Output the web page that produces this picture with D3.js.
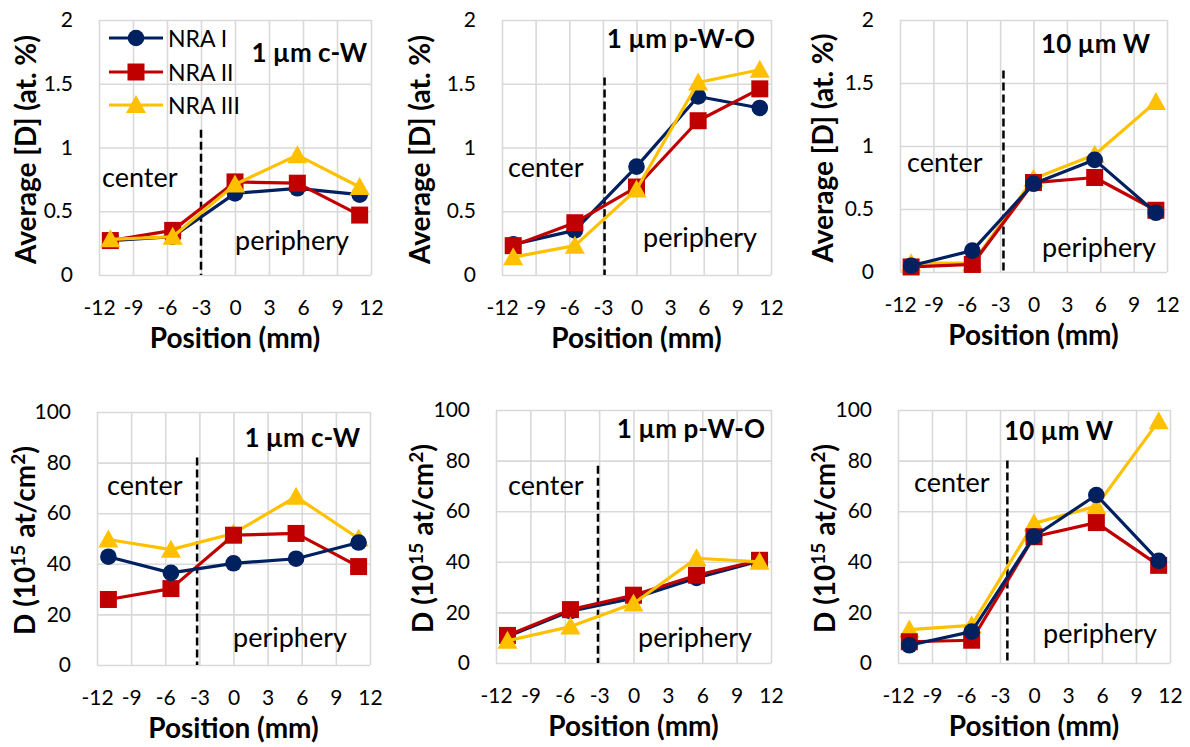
<!DOCTYPE html>
<html>
<head>
<meta charset="utf-8">
<script src="https://cdn.jsdelivr.net/npm/d3@7"></script>
<style>
body { margin: 0; background: #fff; }
#canvas { width: 1190px; height: 747px; }
text { font-family: Lato, 'Open Sans', sans-serif; }
</style>
</head>
<body>
<div id="canvas"></div>
<script>
// measurement positions (mm)
var positions = [-11, -5.5, 0, 5.5, 11];
var seriesNames = ['NRA I', 'NRA II', 'NRA III'];
var seriesColors = ['#002060', '#C00000', '#FFC000'];
var seriesShapes = ['circle', 'square', 'triangle'];
var sampleNames = ['1 µm c-W', '1 µm p-W-O', '10 µm W'];

var xTicks = [-12, -9, -6, -3, 0, 3, 6, 9, 12];
var avgTicks = [0, 0.5, 1, 1.5, 2];
var fluTicks = [0, 20, 40, 60, 80, 100];

// average [D] in at.%  (rows: NRA I, NRA II, NRA III)
var avg_cW = [
    [0.27, 0.30, 0.64, 0.68, 0.63],
    [0.27, 0.35, 0.73, 0.72, 0.47],
    [0.28, 0.30, 0.71, 0.94, 0.69]
];
var avg_pWO = [
    [0.24, 0.35, 0.85, 1.40, 1.31],
    [0.23, 0.41, 0.69, 1.21, 1.46],
    [0.14, 0.23, 0.67, 1.51, 1.61]
];
var avg_W = [
    [0.05, 0.17, 0.70, 0.89, 0.47],
    [0.04, 0.06, 0.71, 0.75, 0.49],
    [0.07, 0.07, 0.74, 0.93, 1.35]
];

// D amount in 1e15 at/cm2
var flu_cW = [
    [42.8, 36.4, 40.2, 42.0, 48.4],
    [25.9, 30.2, 51.3, 52.0, 38.9],
    [49.6, 45.6, 52.0, 66.5, 50.0]
];
var flu_pWO = [
    [10.5, 20.5, 25.6, 33.6, 40.3],
    [10.9, 21.1, 26.8, 34.7, 40.6],
    [8.8, 14.4, 23.5, 41.4, 40.0]
];
var flu_W = [
    [7.0, 12.4, 50.0, 66.4, 40.4],
    [8.4, 9.0, 49.9, 55.5, 38.6],
    [13.2, 14.9, 55.2, 62.0, 95.6]
];

// center / periphery boundary: [position, top of dashed line]
var bnd_avg = [[-3.0, 1.14], [-2.85, 1.55], [-2.7, 1.6]];
var bnd_flu = [[-3.2, 82], [-3.1, 78], [-2.35, 80]];

var panels = [
    {data: avg_cW, ticks: avgTicks, bnd: bnd_avg[0], name: sampleNames[0], kind: 'avg',
     l: 99, r: 371, t: 20, b: 275, order: [0, 1, 2], ytx: 36,
     nameX: 367, nameY: 62, cX: 102, cY: 187, pX: 235, pY: 250, legend: true},
    {data: avg_pWO, ticks: avgTicks, bnd: bnd_avg[1], name: sampleNames[1], kind: 'avg',
     l: 502, r: 771, t: 20, b: 275, order: [0, 1, 2], ytx: 430,
     nameX: 755, nameY: 48, cX: 508, cY: 177, pX: 643, pY: 247},
    {data: avg_W, ticks: avgTicks, bnd: bnd_avg[2], name: sampleNames[2], kind: 'avg',
     l: 900, r: 1167, t: 20, b: 272, order: [2, 1, 0], ytx: 833,
     nameX: 1150, nameY: 53, cX: 907, cY: 172, pX: 1042, pY: 257},
    {data: flu_cW, ticks: fluTicks, bnd: bnd_flu[0], name: sampleNames[0], kind: 'flu',
     l: 97, r: 370, t: 412, b: 665, order: [2, 1, 0], ytx: 35,
     nameX: 360, nameY: 447, cX: 107, cY: 495, pX: 233, pY: 647},
    {data: flu_pWO, ticks: fluTicks, bnd: bnd_flu[1], name: sampleNames[1], kind: 'flu',
     l: 496, r: 771, t: 410, b: 663, order: [0, 1, 2], ytx: 433,
     nameX: 765, nameY: 438, cX: 508, cY: 495, pX: 638, pY: 647},
    {data: flu_W, ticks: fluTicks, bnd: bnd_flu[2], name: sampleNames[2], kind: 'flu',
     l: 898, r: 1170, t: 410, b: 663, order: [2, 1, 0], ytx: 835,
     nameX: 1113, nameY: 440, cX: 914, cY: 492, pX: 1043, pY: 643}
];

var svg = d3.select('#canvas')
    .append('svg')
    .attr('width', 1190)
    .attr('height', 747);

var gridColor = '#d9d9d9';

function drawMarker(g, shape, color, cx, cy) {
    if (shape === 'circle') {
        g.append('circle').attr('cx', cx).attr('cy', cy).attr('r', 8.3).style('fill', color);
    } else if (shape === 'square') {
        g.append('rect').attr('x', cx - 8.5).attr('y', cy - 8.5)
            .attr('width', 17).attr('height', 17).style('fill', color);
    } else {
        g.append('path')
            .attr('d', 'M' + cx + ',' + (cy - 10) + 'L' + (cx + 10) + ',' + (cy + 8) + 'L' + (cx - 10) + ',' + (cy + 8) + 'Z')
            .style('fill', color);
    }
}

panels.forEach(function(p) {
    var x = d3.scaleLinear().domain([-12, 12]).range([p.l, p.r]);
    var y = d3.scaleLinear().domain([0, d3.max(p.ticks)]).range([p.b, p.t]);
    var g = svg.append('g');

    // grid
    g.append('g')
        .attr('transform', 'translate(0,' + p.b + ')')
        .call(d3.axisBottom(x).tickValues(xTicks).tickSize(-(p.b - p.t)).tickFormat(''))
        .call(function(a) { a.select('.domain').remove(); })
        .selectAll('line').style('stroke', gridColor).style('stroke-width', 1.6);
    g.append('g')
        .attr('transform', 'translate(' + p.l + ',0)')
        .call(d3.axisLeft(y).tickValues(p.ticks).tickSize(-(p.r - p.l)).tickFormat(''))
        .call(function(a) { a.select('.domain').remove(); })
        .selectAll('line').style('stroke', gridColor).style('stroke-width', 1.6);

    // tick labels
    var xa = g.append('g')
        .attr('transform', 'translate(0,' + p.b + ')')
        .call(d3.axisBottom(x).tickValues(xTicks).tickSize(0).tickPadding(25).tickFormat(function(d) { return String(d); }));
    xa.select('.domain').remove();
    xa.selectAll('text').style('font-size', '21px').style('fill', '#000').style('font-family', 'Lato');
    var ya = g.append('g')
        .attr('transform', 'translate(' + p.l + ',0)')
        .call(d3.axisLeft(y).tickValues(p.ticks).tickSize(0).tickPadding(26).tickFormat(function(d) { return String(d); }));
    ya.select('.domain').remove();
    ya.selectAll('text').style('font-size', '21px').style('fill', '#000').style('font-family', 'Lato');

    // axis titles
    g.append('text')
        .attr('x', (p.l + p.r) / 2).attr('y', p.b + 73)
        .attr('text-anchor', 'middle')
        .style('font-size', '28px').style('font-weight', 'bold')
        .text('Position (mm)');

    var yt = g.append('text')
        .attr('transform', 'translate(' + p.ytx + ',' + ((p.t + p.b) / 2 + 2) + ') rotate(-90)')
        .attr('text-anchor', 'middle')
        .style('font-size', '28px').style('font-weight', 'bold');
    if (p.kind === 'avg') {
        yt.text('Average [D] (at. %)');
    } else {
        yt.append('tspan').text('D (10');
        yt.append('tspan').attr('dy', -10).style('font-size', '19px').text('15');
        yt.append('tspan').attr('dy', 10).text(' at/cm');
        yt.append('tspan').attr('dy', -10).style('font-size', '19px').text('2');
        yt.append('tspan').attr('dy', 10).text(')');
    }

    // center / periphery boundary
    g.append('line')
        .attr('x1', x(p.bnd[0])).attr('x2', x(p.bnd[0]))
        .attr('y1', y(p.bnd[1])).attr('y2', y(0))
        .style('stroke', '#000').style('stroke-width', 2.5)
        .style('stroke-dasharray', '8,4');

    g.append('text').attr('x', p.cX).attr('y', p.cY)
        .style('font-size', '27px').text('center');
    g.append('text').attr('x', p.pX).attr('y', p.pY)
        .style('font-size', '27px').text('periphery');
    g.append('text').attr('x', p.nameX).attr('y', p.nameY)
        .attr('text-anchor', 'end')
        .style('font-size', '26px').style('font-weight', 'bold')
        .text(p.name);

    // series
    var line = d3.line()
        .x(function(d, i) { return x(positions[i]); })
        .y(function(d) { return y(d); });
    p.order.forEach(function(s) {
        var sg = g.append('g');
        sg.append('path')
            .attr('d', line(p.data[s]))
            .style('fill', 'none')
            .style('stroke', seriesColors[s])
            .style('stroke-width', 3.2)
            .style('stroke-linejoin', 'round');
        p.data[s].forEach(function(v, i) {
            drawMarker(sg, seriesShapes[s], seriesColors[s], x(positions[i]), y(v));
        });
    });

    // legend
    if (p.legend) {
        var rows = [38, 72, 105];
        seriesNames.forEach(function(n, s) {
            var lg = g.append('g');
            lg.append('line')
                .attr('x1', 109).attr('x2', 163)
                .attr('y1', rows[s]).attr('y2', rows[s])
                .style('stroke', seriesColors[s]).style('stroke-width', 3.2);
            drawMarker(lg, seriesShapes[s], seriesColors[s], 136, rows[s]);
            lg.append('text').attr('x', 168).attr('y', rows[s] + 8.5)
                .style('font-size', '23px').text(n);
        });
    }
});
</script>
</body>
</html>
